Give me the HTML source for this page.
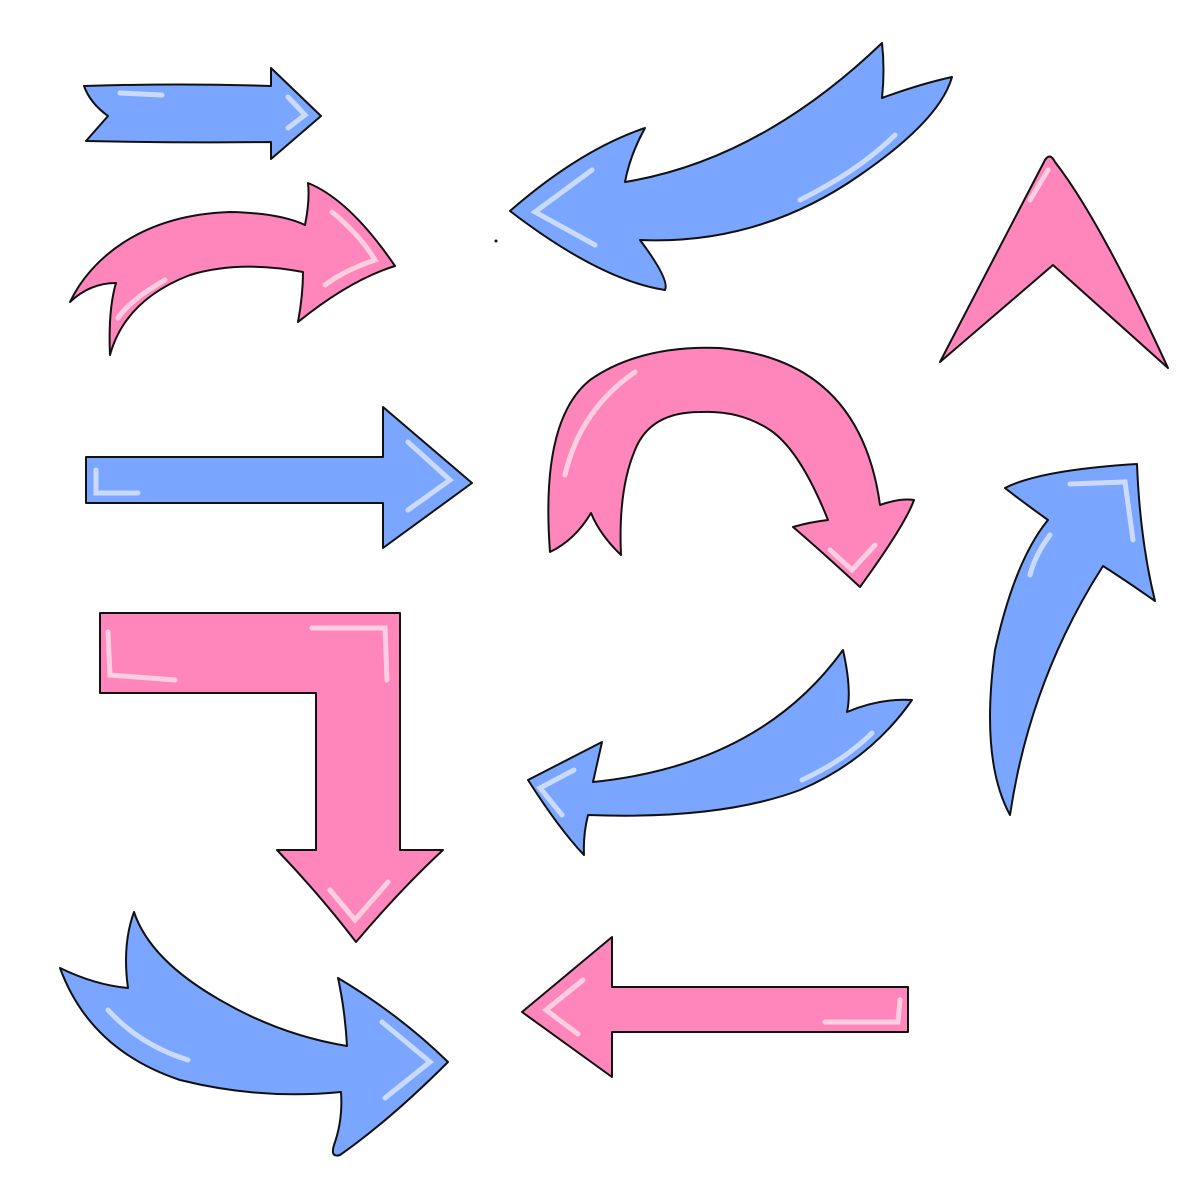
<!DOCTYPE html>
<html><head><meta charset="utf-8"><style>html,body{margin:0;padding:0;background:#fff}svg{display:block}</style></head>
<body>
<svg width="1200" height="1200" viewBox="0 0 1200 1200" xmlns="http://www.w3.org/2000/svg">
<g stroke="#111" stroke-width="2" stroke-linejoin="round">
<path fill="#7aa6ff" d="M84,86 Q180,83 271,86 L271,68 L321,116 L271,159 L271,142 Q180,143 86,141 L108,116 Q90,103 84,86 Z"/>
<path fill="#ff86ba" d="M70,302 C90,260 140,215 230,212 Q280,213 305,225 Q310,200 308,183 Q350,200 395,266 Q350,280 298,322 Q303,295 303,272 Q240,260 190,275 Q125,300 110,355 Q108,310 116,283 Q90,283 70,302 Z"/>
<path fill="#7aa6ff" d="M510,211 Q580,150 645,128 Q630,155 625,182 Q760,160 882,43 Q885,70 882,98 Q920,84 952,77 Q940,120 860,175 Q760,245 640,240 Q670,280 665,290 Q600,280 510,211 Z"/>
<path fill="#ff86ba" d="M940,362 L1045,160 Q1050,152 1055,162 Q1100,220 1168,368 L1053,265 Z"/>
<path fill="#7aa6ff" d="M86,457 L383,457 L383,407 L472,483 L383,548 L383,503 L86,503 Z"/>
<path fill="#ff86ba" d="M550,552 Q540,420 590,380 Q640,345 720,348 Q860,360 880,505 Q900,498 914,500 Q905,525 860,587 Q820,550 793,527 Q810,522 828,520 Q800,450 770,430 Q740,410 700,412 Q650,412 635,450 Q618,490 621,555 Q600,535 591,513 Q575,540 550,552 Z"/>
<path fill="#7aa6ff" d="M1010,815 Q980,760 995,650 Q1015,560 1048,520 Q1020,500 1005,488 Q1040,470 1137,464 Q1140,540 1155,601 Q1125,580 1103,566 Q1030,680 1010,815 Z"/>
<path fill="#ff86ba" d="M100,613 L400,613 L400,850 L443,850 Q400,890 356,942 Q320,895 277,850 L316,850 L316,693 L100,693 Z"/>
<path fill="#7aa6ff" d="M528,780 L602,742 Q598,760 593,782 Q760,765 843,650 Q852,690 847,712 Q880,698 912,700 Q870,760 800,790 Q720,820 588,815 Q583,835 584,855 Q560,830 528,780 Z"/>
<path fill="#7aa6ff" d="M60,968 Q95,985 128,988 Q122,945 134,912 Q150,960 220,1000 Q280,1035 347,1046 Q345,1010 338,978 Q400,1015 448,1062 Q390,1120 340,1155 Q330,1158 334,1145 Q343,1120 341,1092 Q260,1100 180,1080 Q90,1050 60,968 Z"/>
<path fill="#ff86ba" d="M522,1012 L612,937 L612,987 L908,987 L908,1032 L612,1032 L612,1077 Z"/>
</g>
<g fill="none" stroke="#fff" stroke-opacity="0.6" stroke-width="5" stroke-linecap="round">
<path d="M120,93 L162,95"/><path d="M288,97 L305,115 L288,128"/>
<path d="M332,212 Q360,235 375,260 Q345,270 325,285"/><path d="M165,280 Q130,300 118,318"/>
<path d="M592,170 L535,212 L595,245"/><path d="M800,200 Q860,170 895,135"/>
<path d="M1048,170 L1030,200"/>
<path d="M96,470 L96,493 L138,493"/><path d="M408,442 L450,480 L408,510"/>
<path d="M635,372 Q580,410 565,475"/><path d="M830,550 L852,570 L875,545"/>
<path d="M1070,484 L1125,482 L1133,540"/><path d="M1050,535 Q1035,555 1030,575"/>
<path d="M108,632 L110,675 L175,680"/><path d="M312,628 L385,628 L387,680"/>
<path d="M330,890 L355,920 L388,882"/>
<path d="M574,770 L540,788 L562,815"/><path d="M802,780 Q845,760 872,733"/>
<path d="M108,1010 Q140,1045 188,1060"/><path d="M382,1022 L430,1062 L385,1098"/>
<path d="M583,980 L546,1010 L578,1034"/><path d="M825,1022 L898,1022 L900,1000"/>
</g>
<circle cx="496" cy="241" r="1.5" fill="#111"/>
</svg>
</body></html>
